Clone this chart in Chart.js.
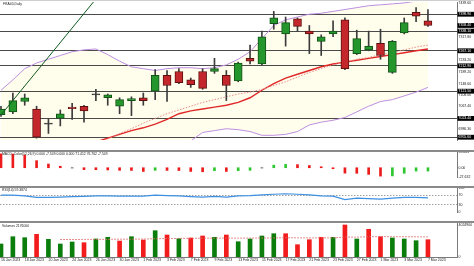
<!DOCTYPE html>
<html>
<head>
<meta charset="utf-8">
<title>FRA40 Daily</title>
<script src="https://cdn.jsdelivr.net/npm/chart.js@4.4.1/dist/chart.umd.min.js"></script>
<style>
  html, body { margin: 0; padding: 0; background: #fff; }
  #wrap { position: relative; width: 474px; height: 266px; overflow: hidden; background: #fff; }
  canvas { position: absolute; left: 0; }
  .sep { position: absolute; left: 0; width: 474px; height: 2px; background: #8a8a8a; }
  .hdr { position: absolute; left: 2px; font-family: 'Liberation Sans', Arial, sans-serif; font-size: 3.4px; line-height: 1; color: #222; white-space: nowrap; }
</style>
</head>
<body>
<div id="wrap">
  <div class="sep" style="top:0;height:1px;background:#cfcfcf"></div>
  <canvas id="price-canvas" width="474" height="155" style="top:-2px"></canvas>
  <canvas id="macd-canvas" width="474" height="42" style="top:148px"></canvas>
  <canvas id="rsi-canvas" width="474" height="41" style="top:184px"></canvas>
  <canvas id="vol-canvas" width="474" height="47" style="top:219px"></canvas>
  <div class="sep" style="top:150px"></div>
  <div class="sep" style="top:186px"></div>
  <div class="sep" style="top:221px"></div>
  <div class="hdr" style="top:3px;left:3px">FRA40,Daily</div>
  <div class="hdr" style="top:153px">MACD_Color(12,26,9) 0.000 -7.549 0.000 0.000 71.412 76.762 -7.549</div>
  <div class="hdr" style="top:189px">RSI(14) 59.3874</div>
  <div class="hdr" style="top:225px">Volumes 2176000</div>
</div>
<script>
const FONT = "'Liberation Sans', Arial, sans-serif";

// one bar per trading day
const dates = ['16 Jan 2023','17 Jan 2023','18 Jan 2023','19 Jan 2023','20 Jan 2023','23 Jan 2023','24 Jan 2023','25 Jan 2023','26 Jan 2023','27 Jan 2023','30 Jan 2023','31 Jan 2023',
  '1 Feb 2023','2 Feb 2023','3 Feb 2023','6 Feb 2023','7 Feb 2023','8 Feb 2023','9 Feb 2023','10 Feb 2023','13 Feb 2023','14 Feb 2023','15 Feb 2023','16 Feb 2023','17 Feb 2023',
  '20 Feb 2023','21 Feb 2023','22 Feb 2023','23 Feb 2023','24 Feb 2023','27 Feb 2023','28 Feb 2023','1 Mar 2023','2 Mar 2023','3 Mar 2023','6 Mar 2023','7 Mar 2023'];

const open  = [7037.0,7047.1,7084.3,7057.3,7003.1,7023.4,7064.0,7067.4,7108.0,7097.8,7067.4,7087.7,7097.8,7121.5,7179.1,7192.6,7162.2,7192.6,7192.6,7179.1,7158.8,7240.0,7219.7,7365.2,7327.9,7382.1,7338.1,7300.9,7327.9,7378.7,7256.9,7270.5,7294.1,7189.2,7331.3,7405.8,7375.3];
const high  = [7067.4,7114.8,7111.4,7067.4,7020.0,7053.9,7077.6,7070.8,7128.3,7111.4,7097.8,7101.2,7114.8,7199.4,7196.0,7202.8,7168.9,7202.8,7240.0,7196.0,7226.4,7287.4,7338.1,7409.2,7388.9,7385.5,7358.4,7324.6,7375.3,7385.5,7341.5,7338.1,7344.9,7304.3,7385.5,7422.7,7415.9];
const low   = [7030.2,7040.3,7070.8,6952.3,6969.3,6996.3,7020.0,7009.9,7087.7,7070.8,7040.3,7033.6,7070.8,7091.1,7084.3,7148.6,7135.1,7128.3,7185.8,7087.7,7155.4,7219.7,7216.3,7344.9,7284.0,7338.1,7256.9,7250.1,7317.8,7199.4,7253.5,7267.1,7236.6,7185.8,7327.9,7371.9,7355.0];
const close = [7057.3,7087.7,7097.8,6955.7,7003.1,7040.3,7058.9,7050.5,7108.0,7108.0,7091.1,7094.5,7087.7,7179.1,7141.9,7152.0,7145.2,7131.7,7202.8,7141.9,7223.1,7229.8,7317.8,7385.5,7368.5,7355.0,7327.9,7317.8,7338.1,7202.8,7311.0,7284.0,7250.1,7300.9,7368.5,7392.2,7358.4];

const upperBand  = [7124.9,7162.2,7202.8,7223.1,7236.6,7250.1,7263.7,7270.4,7273.8,7253.5,7229.8,7209.5,7202.8,7196.0,7202.8,7206.1,7206.1,7202.8,7206.1,7216.3,7236.6,7263.7,7311.0,7358.4,7378.7,7388.9,7399.0,7402.4,7409.2,7415.9,7422.7,7429.5,7432.9,7436.2,7439.6,7446.4,7456.5];
const middleBand = [6806.9,6820.4,6834.0,6850.9,6867.8,6884.7,6901.6,6915.2,6932.1,6949.0,6969.3,6986.2,7006.5,7023.4,7040.3,7053.9,7067.4,7081.0,7091.1,7101.2,7111.4,7118.2,7128.3,7141.9,7155.4,7172.3,7189.2,7202.8,7216.3,7226.4,7236.6,7243.4,7253.5,7260.3,7270.5,7280.6,7287.4];
const lowerBand  = [6488.8,6478.7,6465.2,6478.7,6499.0,6519.3,6539.6,6559.9,6590.3,6644.5,6708.8,6762.9,6810.3,6850.7,6877.9,6901.6,6942.2,6972.7,6979.4,6986.2,6982.8,6976.1,6962.5,6962.5,6965.9,6976.1,6999.8,7009.9,7016.7,7026.7,7047.1,7067.4,7084.3,7091.1,7104.6,7118.2,7135.1];
const maLine     = [6867.8,6874.6,6881.3,6891.5,6901.6,6911.8,6918.5,6928.7,6938.8,6952.3,6965.9,6979.4,6989.6,7003.1,7020.0,7040.3,7050.5,7057.3,7064.0,7070.8,7081.0,7097.8,7124.9,7148.6,7168.9,7182.5,7196.0,7209.5,7219.7,7226.4,7233.2,7240.0,7246.7,7253.5,7260.3,7267.1,7273.8];

// trend line: [bar index, price]
const trendLine = [[0, 7035.6], [8, 7453.8]];

const levels = [7398.9, 7338.1, 7267.1, 7212.9, 7121.5, 7023.4, 6955.6];
const lastPrice = 7358.4;
const priceTicks = [7439.6, 7317.8, 7233.2, 7189.2, 7148.6, 7108.0, 7067.4, 6986.3];

const macdHist = [31.5,31.0,28.6,16.0,8.4,3.4,0,-4.2,-4.4,-5.0,-5.9,-6.1,-8.4,-5.9,-6.1,-6.3,-8.4,-9.2,-6.7,-8.4,-6.7,-5.9,0,5.9,7.6,7.1,5.0,1.7,-1.7,-12.3,-12.6,-15.1,-19.0,-18.5,-12.6,-7.6,-7.549];
const macdTicks = [35.663, 0, -21.0];
const macdTickLabels = ['35.663', '0.00', '-27.632'];

const rsi = [70,70,67,61,61,62,64,65,67,67,66,66,66,70,68,67,64,62,65,62,67,68,71,74,76,74,71,67,66,52,58,56,54,58,61,61,59];
const rsiTicks = [100, 70, 30, 0];
const rsiLevels = [70, 30];

const volumes = [1635000,2553000,2427000,2855000,2226000,1635000,1886000,1798000,2264000,2478000,2012000,2553000,2138000,3308000,2767000,2301000,2390000,2641000,2478000,2767000,
  1924000,2264000,2641000,2930000,2930000,1547000,2176000,2478000,2478000,4024900,2264000,3484000,2553000,2390000,2264000,2050000,2176000];
const volumeUp = [1,1,1,0,1,1,1,0,1,1,0,1,0,1,0,1,0,0,1,0,1,1,1,1,0,0,0,0,1,0,1,0,0,1,1,1,0];
const volumeMa = [null,null,null,null,null,2200000,2200000,2210000,2220000,2220000,2240000,2250000,2260000,2300000,2320000,2330000,2350000,2370000,2380000,2380000,
  2370000,2380000,2390000,2400000,2420000,2410000,2400000,2400000,2410000,2500000,2500000,2550000,2560000,2550000,2550000,2540000,2530000];
const volTicks = [4024900, 0];

let dateTicks = [];
for (let i = 0; i < dates.length; i += 2) dateTicks.push(i);

Chart.defaults.font.family = FONT;

function pts(arr) {
  return arr.map((v, i) => ({ x: i, y: v }));
}

function spans(a, b) {
  return a.map((v, i) => ({ x: i, y: [v, b[i]] }));
}

function near(list, v) {
  return list.some(m => Math.abs(m - v) < 0.01);
}

function xAxis(show) {
  return {
    type: 'linear', min: -0.084, max: 38.45, offset: false, display: show,
    grid: { display: false, drawTicks: false },
    border: { display: show, color: '#7a7a7a' },
    afterBuildTicks: s => { s.ticks = dateTicks.map(v => ({ value: v })); },
    afterFit: s => { s.height = 9; },
    ticks: { autoSkip: false, maxRotation: 0, minRotation: 0, align: 'start', padding: 1, color: '#222',
      font: { size: 3.5 }, callback: v => dates[v] }
  };
}

function yAxis(min, max, values, label, grid) {
  return {
    type: 'linear', position: 'right', min: min, max: max, bounds: 'data',
    afterFit: s => { s.width = 17; },
    afterBuildTicks: s => { s.ticks = values.map(v => ({ value: v })); },
    border: { display: true, color: '#7a7a7a', width: 1 },
    grid: grid || { display: false, drawTicks: false },
    ticks: { autoSkip: false, padding: 1.5, color: '#222', font: { size: 3.5 }, callback: label }
  };
}

function options(x, y, padBottom) {
  return {
    responsive: false, animation: false, events: [],
    layout: { padding: { top: 4, bottom: padBottom, left: 0, right: 0 } },
    plugins: { legend: { display: false }, tooltip: { enabled: false }, filler: { drawTime: 'beforeDraw' } },
    scales: { x: x, y: y }
  };
}

// price panel
const bodyFill = open.map((o, i) => close[i] > o ? '#24962c' : close[i] < o ? '#c3262b' : '#333');
const bodyLine = open.map((o, i) => close[i] > o ? '#135218' : close[i] < o ? '#5e1010' : '#333');
const marked = levels.concat([lastPrice]);

let priceY = yAxis(6945.6, 7443.0, priceTicks.concat(levels, [lastPrice]), v => v.toFixed(2), {
  display: true, drawTicks: false, lineWidth: 1,
  color: c => near(levels, c.tick.value) ? '#4a4a4a' : 'rgba(0,0,0,0)'
});
priceY.ticks.color = c => near(marked, c.tick.value) ? '#fff' : '#222';
priceY.ticks.showLabelBackdrop = c => near(marked, c.tick.value);
priceY.ticks.backdropColor = '#000';
priceY.ticks.backdropPadding = { top: 0.3, bottom: 0.3, left: 1, right: 4 };

new Chart(document.getElementById('price-canvas'), {
  type: 'bar',
  data: { datasets: [
    { type: 'line', data: pts(upperBand), borderColor: '#be8ee0', borderWidth: 1, backgroundColor: '#fffeec', fill: '+1', pointRadius: 0, tension: 0, order: 6 },
    { type: 'line', data: pts(lowerBand), borderColor: '#be8ee0', borderWidth: 1, fill: false, pointRadius: 0, tension: 0, order: 6 },
    { type: 'line', data: pts(middleBand), borderColor: '#ea8a8a', borderWidth: 1, borderDash: [1.5, 1.5], fill: false, pointRadius: 0, order: 5 },
    { type: 'line', data: pts(maLine), borderColor: '#e02727', borderWidth: 1.4, fill: false, pointRadius: 0, order: 5 },
    { data: spans(low, high), backgroundColor: '#3c3c3c', barThickness: 1, grouped: false, order: 3 },
    { data: spans(open, close), backgroundColor: bodyFill, borderColor: bodyLine, borderWidth: 1, borderSkipped: false,
      minBarLength: 1, barThickness: 8, grouped: false, order: 2 },
    { type: 'line', data: trendLine.map(p => ({ x: p[0], y: p[1] })), borderColor: '#0f5a1f', borderWidth: 1, fill: false, pointRadius: 0, order: 1 }
  ]},
  options: options(xAxis(false), priceY, 4)
});

// histogram panel
const macdColors = macdHist.map((v, i) => v === 0 ? '#9a9a9a' : (i > 0 && v > macdHist[i - 1]) ? '#2fc72f' : '#ec1c1c');
new Chart(document.getElementById('macd-canvas'), {
  type: 'bar',
  data: { datasets: [
    { data: pts(macdHist), backgroundColor: macdColors, barThickness: 2, minBarLength: 1, grouped: false }
  ]},
  options: options(xAxis(false), yAxis(-21.0, 35.663, macdTicks, (v, i) => macdTickLabels[i]), 4)
});

// RSI panel
let rsiY = yAxis(0, 100, rsiTicks, v => String(v), {
  display: true, drawTicks: false, lineWidth: 1,
  color: c => near(rsiLevels, c.tick.value) ? '#a0a0a0' : 'rgba(0,0,0,0)'
});
rsiY.border.dash = [1.5, 1.5];

new Chart(document.getElementById('rsi-canvas'), {
  type: 'line',
  data: { datasets: [
    { data: pts(rsi), borderColor: '#3d8fe0', borderWidth: 1.2, pointRadius: 0, tension: 0, fill: false }
  ]},
  options: options(xAxis(false), rsiY, 4)
});

// volume panel
new Chart(document.getElementById('vol-canvas'), {
  type: 'bar',
  data: { datasets: [
    { type: 'line', data: pts(volumeMa), borderColor: '#e06a6a', borderWidth: 1, borderDash: [1.5, 1.5], pointRadius: 0, fill: false, order: 1 },
    { data: pts(volumes), backgroundColor: volumeUp.map(u => u ? '#0b7d0b' : '#f21c1c'), barThickness: 4, grouped: false, order: 2 }
  ]},
  options: options(xAxis(true), yAxis(0, 4276000, volTicks, v => String(v)), 0)
});
</script>
</body>
</html>
